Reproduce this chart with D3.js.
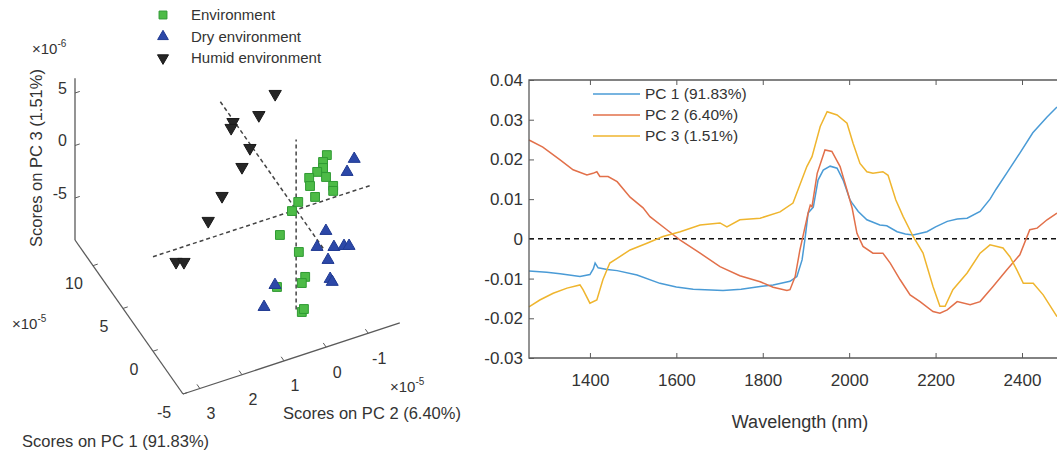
<!DOCTYPE html>
<html>
<head>
<meta charset="utf-8">
<script src="https://cdn.jsdelivr.net/npm/d3@7"></script>
<style>
  body { margin: 0; background: #fff; }
  text { font-family: "Liberation Sans", Arial, sans-serif; fill: #333; }
</style>
</head>
<body>
<svg id="chart" width="1057" height="452"></svg>
<script>
// ---- scores, [PC1 (x1e-5), PC2 (x1e-5), PC3 (x1e-6)] ----
var envScores = [
  [0, -0.73, 4.25], [0, -0.64, 3.71], [0, -0.64, 3.14], [0, -0.50, 2.95], [0, -0.31, 2.63],
  [0, -0.71, 2.19], [0, -0.33, 1.83], [0, -0.88, 1.12], [0, -0.88, 0.64], [0, -0.45, 0.63],
  [0, -0.05, 0.68], [0, 0.10, 0.01], [-2, 0.67, 0.11], [-2, 0.22, -2.10], [-2, 0.07, -4.67],
  [-2, 0.15, -5.15], [-2, 0.74, -4.75], [-2, 0.15, -7.91], [-2, 0.10, -7.69]
];
var dryScores = [
  [0, -1.38, 3.03], [0, -1.21, 2.01], [-3, -0.28, 0.06], [-3, -0.07, -1.19], [-3, -0.47, -1.72],
  [-3, -0.71, -1.94], [-3, -0.83, -2.09], [-3, -0.33, -2.77], [-3, -0.38, -4.64], [-3, -0.43, -4.99],
  [-3, 0.93, -3.50], [-3, 1.19, -5.25]
];
var humidScores = [
  [10.16, -0.95, 1.5], [9.16, -0.42, 1.0], [10.80, -0.04, -0.5], [9.50, 0.19, 0.3], [6.51, 0.17, 0.8],
  [6.15, 0.41, -0.4], [3.02, 1.33, 0.6], [0.48, 2.02, 1.2], [-3.21, 3.31, 2.0], [-3.26, 3.13, 1.8]
];
var groupNames = ["Environment", "Dry environment", "Humid environment"];

// dashed reference lines through the origin
var pc1Line = [-4.5, 12.7];
var pc2Line = [3.4, -1.75];
var pc3Line = [-9.5, 6.7];

// 3d axis limits and ticks
var pc1Lim = [-5, 13], pc2Lim = [3.4, -1.75], pc3Lim = [-9, 6.4];
var pc1Ticks = [-5, 0, 5, 10];
var pc2Ticks = [-1, 0, 1, 2, 3];
var pc3Ticks = [-5, 0, 5];

// ---- loadings, [wavelength nm, loading] ----
var pc1Load = [[1259,-0.0081],[1300,-0.0084],[1331,-0.0088],[1377,-0.0095],[1400,-0.0090],[1408,-0.0075],[1412,-0.0061],[1419,-0.0073],[1440,-0.0077],[1463,-0.0080],[1509,-0.0091],[1562,-0.0112],[1600,-0.0121],[1639,-0.0127],[1708,-0.0130],[1750,-0.0127],[1794,-0.0120],[1824,-0.0116],[1863,-0.0107],[1879,-0.0095],[1891,-0.0053],[1898,0.0002],[1905,0.0065],[1917,0.0080],[1928,0.0148],[1940,0.0173],[1956,0.0183],[1972,0.0178],[1986,0.0148],[2002,0.0098],[2007,0.0090],[2021,0.0069],[2041,0.0048],[2071,0.0035],[2087,0.0033],[2111,0.0018],[2130,0.0012],[2148,0.0010],[2180,0.0018],[2200,0.0030],[2227,0.0044],[2250,0.0050],[2273,0.0052],[2303,0.0069],[2326,0.0100],[2340,0.0125],[2365,0.0166],[2395,0.0216],[2425,0.0267],[2458,0.0307],[2481,0.0332]];
var pc2Load = [[1259,0.0249],[1291,0.0231],[1331,0.0199],[1361,0.0174],[1393,0.0161],[1407,0.0165],[1416,0.0169],[1423,0.0157],[1442,0.0157],[1463,0.0144],[1493,0.0105],[1523,0.0078],[1539,0.0056],[1578,0.0023],[1609,-0.0003],[1655,-0.0036],[1701,-0.0070],[1747,-0.0093],[1794,-0.0108],[1824,-0.0122],[1856,-0.0130],[1863,-0.0128],[1875,-0.0095],[1886,-0.0028],[1898,0.0031],[1905,0.0065],[1910,0.0085],[1914,0.0081],[1926,0.0165],[1944,0.0224],[1960,0.0220],[1979,0.0182],[1995,0.0123],[2007,0.0077],[2018,0.0014],[2032,-0.0019],[2055,-0.0036],[2078,-0.0036],[2095,-0.0061],[2118,-0.0103],[2141,-0.0141],[2164,-0.0158],[2194,-0.0183],[2210,-0.0187],[2227,-0.0179],[2250,-0.0158],[2280,-0.0166],[2303,-0.0158],[2333,-0.0120],[2365,-0.0078],[2395,-0.0040],[2418,0.0023],[2435,0.0027],[2458,0.0048],[2481,0.0065]];
var pc3Load = [[1259,-0.0171],[1284,-0.0154],[1315,-0.0137],[1347,-0.0124],[1377,-0.0116],[1384,-0.0128],[1400,-0.0162],[1416,-0.0154],[1430,-0.0103],[1446,-0.0061],[1463,-0.0049],[1493,-0.0028],[1532,-0.0011],[1569,0.0006],[1609,0.0018],[1655,0.0035],[1701,0.0040],[1717,0.0030],[1747,0.0048],[1794,0.0052],[1840,0.0068],[1870,0.0090],[1902,0.0182],[1914,0.0207],[1933,0.0283],[1949,0.0320],[1972,0.0312],[1995,0.0291],[2009,0.0241],[2025,0.0190],[2041,0.0169],[2055,0.0165],[2078,0.0169],[2090,0.0160],[2108,0.0098],[2125,0.0056],[2148,0.0006],[2171,-0.0036],[2194,-0.0120],[2210,-0.0170],[2222,-0.0170],[2240,-0.0128],[2273,-0.0086],[2303,-0.0036],[2326,-0.0015],[2356,-0.0023],[2372,-0.0045],[2388,-0.0078],[2403,-0.0112],[2426,-0.0112],[2449,-0.0141],[2481,-0.0196]];
var loadNames = ["PC 1 (91.83%)", "PC 2 (6.40%)", "PC 3 (1.51%)"];
var xTicks = [1400, 1600, 1800, 2000, 2200, 2400];
var yTicks = [-0.03, -0.02, -0.01, 0, 0.01, 0.02, 0.03, 0.04];

var svg = d3.select("#chart");
var axisCol = "#5a5a5a";

// ================= left: 3d score plot =================
// oblique projection: each score axis is a scale onto a screen vector
var corner = [183, 394];
var v1 = [-108, -154], v2 = [216.8, -71.1], v3 = [0, -161.7];
var s1 = d3.scaleLinear().domain(pc1Lim).range([0, 1]);
var s2 = d3.scaleLinear().domain(pc2Lim).range([0, 1]);
var s3 = d3.scaleLinear().domain(pc3Lim).range([0, 1]);
function proj(p) {
  var a = s1(p[0]), b = s2(p[1]), c = s3(p[2]);
  return [corner[0] + a*v1[0] + b*v2[0] + c*v3[0],
          corner[1] + a*v1[1] + b*v2[1] + c*v3[1]];
}
function unit(v, len) { var n = Math.hypot(v[0], v[1]); return [v[0]/n*len, v[1]/n*len]; }

var left = svg.append("g");
function seg(a, b) {
  var p = proj(a), q = proj(b);
  return left.append("line").attr("x1", p[0]).attr("y1", p[1]).attr("x2", q[0]).attr("y2", q[1]);
}
// axis lines
seg([pc1Lim[0], pc2Lim[0], pc3Lim[0]], [pc1Lim[1], pc2Lim[0], pc3Lim[0]]).attr("stroke", axisCol).attr("stroke-width", 1.3);
seg([pc1Lim[0], pc2Lim[0], pc3Lim[0]], [pc1Lim[0], pc2Lim[1], pc3Lim[0]]).attr("stroke", axisCol).attr("stroke-width", 1.3);
seg([pc1Lim[1], pc2Lim[0], pc3Lim[0]], [pc1Lim[1], pc2Lim[0], pc3Lim[1]]).attr("stroke", axisCol).attr("stroke-width", 1.3);

// ticks + labels
var t2 = unit(v2, 5), t1 = unit(v1, 5);
pc3Ticks.forEach(function(t) {
  var p = proj([pc1Lim[1], pc2Lim[0], t]);
  left.append("line").attr("x1", p[0]).attr("y1", p[1]).attr("x2", p[0] + t2[0]).attr("y2", p[1] + t2[1]).attr("stroke", axisCol);
  left.append("text").attr("x", p[0] - 8).attr("y", p[1] - 5).attr("dy", "0.35em")
    .attr("text-anchor", "end").style("font-size", "16px").text(t);
});
pc1Ticks.forEach(function(t) {
  var p = proj([t, pc2Lim[0], pc3Lim[0]]);
  left.append("line").attr("x1", p[0]).attr("y1", p[1]).attr("x2", p[0] + t2[0]).attr("y2", p[1] + t2[1]).attr("stroke", axisCol);
  left.append("text").attr("x", p[0] - 19).attr("y", p[1] + 18).attr("dy", "0.35em")
    .attr("text-anchor", "middle").style("font-size", "16px").text(t);
});
pc2Ticks.forEach(function(t) {
  var p = proj([pc1Lim[0], t, pc3Lim[0]]);
  left.append("line").attr("x1", p[0]).attr("y1", p[1]).attr("x2", p[0] + t1[0]).attr("y2", p[1] + t1[1]).attr("stroke", axisCol);
  left.append("text").attr("x", p[0] + 11).attr("y", p[1] + 25).attr("dy", "0.35em")
    .attr("text-anchor", "middle").style("font-size", "16px").text(t);
});

// exponent labels
function expo(x, y, e) {
  var t = left.append("text").attr("x", x).attr("y", y).style("font-size", "15px");
  t.append("tspan").text("\u00d710");
  t.append("tspan").attr("dy", -7).style("font-size", "10px").text(e);
}
expo(32, 54, "-6");
expo(12, 329, "-5");
expo(390, 392, "-5");

// axis titles
left.append("text").attr("transform", "translate(42,158) rotate(-90)").attr("text-anchor", "middle")
  .style("font-size", "16.5px").text("Scores on PC 3 (1.51%)");
left.append("text").attr("x", 22).attr("y", 447).style("font-size", "16.5px").text("Scores on PC 1 (91.83%)");
left.append("text").attr("x", 283).attr("y", 419).style("font-size", "16.5px").text("Scores on PC 2 (6.40%)");

// dashed lines through origin
seg([pc1Line[0], 0, 0], [pc1Line[1], 0, 0]).attr("stroke", "#444").attr("stroke-width", 1.5).attr("stroke-dasharray", "4,3");
seg([0, pc2Line[0], 0], [0, pc2Line[1], 0]).attr("stroke", "#444").attr("stroke-width", 1.5).attr("stroke-dasharray", "4,3");
seg([0, 0, pc3Line[0]], [0, 0, pc3Line[1]]).attr("stroke", "#444").attr("stroke-width", 1.5).attr("stroke-dasharray", "4,3");

// markers
var styles = [
  {fill: "#4dbb47", stroke: "#2f9a33", sym: d3.symbolSquare, size: 78, rot: 0},
  {fill: "#2c48a8", stroke: "#203a92", sym: d3.symbolTriangle, size: 62, rot: 0},
  {fill: "#262626", stroke: "#1a1a1a", sym: d3.symbolTriangle, size: 66, rot: 180}
];
[envScores, dryScores, humidScores].forEach(function(set, i) {
  var st = styles[i];
  left.append("g").selectAll("path").data(set).enter().append("path")
    .attr("d", d3.symbol().type(st.sym).size(st.size))
    .attr("transform", function(d) { var p = proj(d); return "translate(" + p[0] + "," + p[1] + ") rotate(" + st.rot + ")"; })
    .attr("fill", st.fill).attr("stroke", st.stroke).attr("stroke-width", 1);
});

// legend
groupNames.forEach(function(name, i) {
  var st = styles[i], y = 15 + i*21.5;
  left.append("path").attr("d", d3.symbol().type(st.sym).size(st.size*0.8))
    .attr("transform", "translate(163," + y + ") rotate(" + st.rot + ")")
    .attr("fill", st.fill).attr("stroke", st.stroke);
  left.append("text").attr("x", 191).attr("y", y).attr("dy", "0.35em").style("font-size", "15px").text(name);
});

// ================= right: loadings =================
var x = d3.scaleLinear().domain([1259, 2481]).range([529, 1057]);
var y = d3.scaleLinear().domain([-0.03, 0.04]).range([358, 80]);
var right = svg.append("g");

var lineColors = ["#4a9bd6", "#e2704a", "#efb52e"];
var line = d3.line().x(function(d) { return x(d[0]); }).y(function(d) { return y(d[1]); });

// zero line
right.append("line").attr("x1", x(1259)).attr("x2", x(2481)).attr("y1", y(0)).attr("y2", y(0))
  .attr("stroke", "#111").attr("stroke-width", 1.5).attr("stroke-dasharray", "5,4");

[pc1Load, pc2Load, pc3Load].forEach(function(d, i) {
  right.append("path").datum(d).attr("d", line).attr("fill", "none")
    .attr("stroke", lineColors[i]).attr("stroke-width", 1.5);
});

// axes (box style, ticks inward)
var yAxis = right.append("g").attr("transform", "translate(529,0)")
  .call(d3.axisLeft(y).tickValues(yTicks).tickSize(-5).tickPadding(6)
    .tickFormat(function(d) { return d === 0 ? "0" : d.toFixed(2); }));
var xAxis = right.append("g").attr("transform", "translate(0,358)")
  .call(d3.axisBottom(x).tickValues(xTicks).tickSize(-5).tickPadding(16)
    .tickFormat(function(d) { return String(d); }));
var topAxis = right.append("g").attr("transform", "translate(0,80)")
  .call(d3.axisTop(x).tickValues(xTicks).tickSize(-5).tickFormat(""));
[yAxis, xAxis, topAxis].forEach(function(a) {
  a.select(".domain").remove();
  a.selectAll(".tick line").attr("stroke", axisCol);
  a.selectAll("text").style("font-size", "17px").attr("fill", "#333")
    .style("font-family", "'Liberation Sans', Arial, sans-serif");
});
right.append("path").attr("d", "M1057,80H529V358H1057").attr("fill", "none").attr("stroke", axisCol).attr("stroke-width", 1.3);

right.append("text").attr("x", 800).attr("y", 428).attr("text-anchor", "middle")
  .style("font-size", "18px").text("Wavelength (nm)");

// legend
loadNames.forEach(function(name, i) {
  var ly = 94 + i*21;
  right.append("line").attr("x1", 593).attr("x2", 640).attr("y1", ly).attr("y2", ly)
    .attr("stroke", lineColors[i]).attr("stroke-width", 1.5);
  right.append("text").attr("x", 645).attr("y", ly).attr("dy", "0.35em").style("font-size", "15.5px").text(name);
});
</script>
</body>
</html>
